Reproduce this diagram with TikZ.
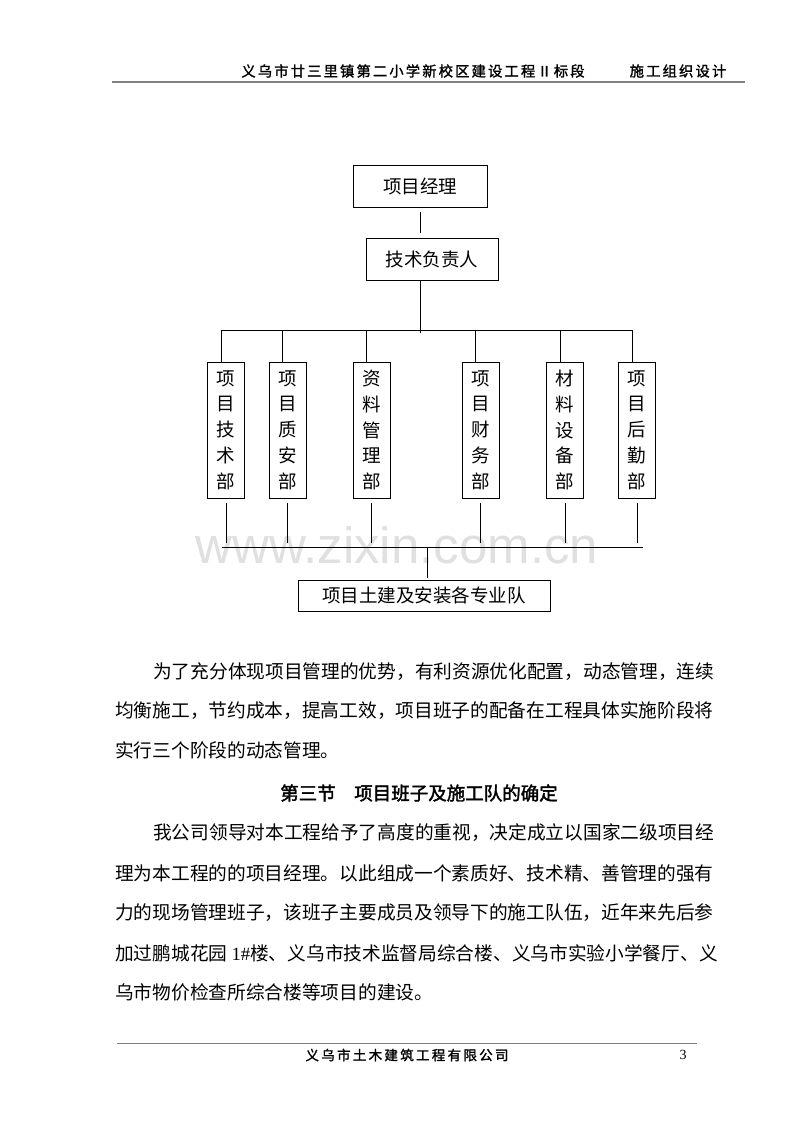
\documentclass[tikz,border=0pt]{standalone}
\usepackage{fontspec}
\setmainfont{Liberation Serif}
\newfontfamily\cjk{Noto Sans CJK SC}
\newfontfamily\cjkbf[FakeBold=2]{Noto Sans CJK SC}
\newfontfamily\cjkhead[FakeBold=1.5,LetterSpace=15]{Noto Sans CJK SC}
\newfontfamily\cjkfoot[FakeBold=1.5,LetterSpace=17]{Noto Sans CJK SC}
\newfontfamily\wmfont{Liberation Sans}
\tikzset{
  orgbox/.style={draw, line width=0.9pt, inner sep=0pt, font=\cjk\fontsize{18.5pt}{25.7pt}\selectfont},
  deptbox/.style={orgbox, align=center, minimum width=37pt, minimum height=136pt},
  link/.style={line width=0.9pt},
  bodyline/.style={anchor=west, inner sep=0pt, font=\cjk\fontsize{18.7pt}{18.7pt}\selectfont}
}
\begin{document}
\begin{tikzpicture}[x=1pt,y=-1pt]
    \useasboundingbox (0,0) rectangle (800,1132);
    \fill[white] (0,0) rectangle (800,1132);

    % watermark behind the chart
    \node[text=black!12, font=\wmfont\fontsize{51pt}{51pt}\selectfont, anchor=base] (mark) at (397,563) {www.zixin.com.cn};

    % page header
    \node[font=\cjkhead\fontsize{14.3pt}{14.3pt}\selectfont] (headl) at (413,71) {义乌市廿三里镇第二小学新校区建设工程Ⅱ标段};
    \node[font=\cjkhead\fontsize{14.3pt}{14.3pt}\selectfont] (headr) at (678,71) {施工组织设计};
    \draw[gray, line width=2pt] (112,82) -- (745,82);

    % org chart
    \node[orgbox, minimum width=134pt, minimum height=42pt] (mgr) at (420,186) {项目经理};
    \node[orgbox, minimum width=132pt, minimum height=42pt] (tech) at (432,259) {技术负责人};
    \node[deptbox] (dtech) at (226,430) {项\\目\\技\\术\\部};
    \node[deptbox] (dqual) at (287.5,430) {项\\目\\质\\安\\部};
    \node[deptbox] (ddata) at (371.5,430) {资\\料\\管\\理\\部};
    \node[deptbox] (dfin) at (480.5,430) {项\\目\\财\\务\\部};
    \node[deptbox] (dmat) at (565,430) {材\\料\\设\\备\\部};
    \node[deptbox] (dlog) at (637,430) {项\\目\\后\\勤\\部};
    \node[orgbox, minimum width=252pt, minimum height=31pt] (team) at (424,595.5) {项目土建及安装各专业队};

    \coordinate (topbus) at (0,330);
    \coordinate (botbus) at (0,547);
    \draw[link, shorten <=5pt, shorten >=5pt] (mgr.south) -- (mgr.south |- tech.north);
    \draw[link] (mgr.south |- tech.south) -- ([yshift=-3pt]mgr.south |- topbus);
    \draw[link] ([xshift=-5pt]dtech.north |- topbus) -- ([xshift=-5pt]dlog.north |- topbus);
    \draw[link] ([xshift=-5pt]dtech.north |- topbus) -- ([xshift=-5pt]dtech.north);
    \draw[link] ([xshift=-5pt]dqual.north |- topbus) -- ([xshift=-5pt]dqual.north);
    \draw[link] ([xshift=-5pt]ddata.north |- topbus) -- ([xshift=-5pt]ddata.north);
    \draw[link] ([xshift=-5pt]dfin.north |- topbus) -- ([xshift=-5pt]dfin.north);
    \draw[link] ([xshift=-5pt]dmat.north |- topbus) -- ([xshift=-5pt]dmat.north);
    \draw[link] ([xshift=-5pt]dlog.north |- topbus) -- ([xshift=-5pt]dlog.north);
    \draw[link, shorten <=5pt, shorten >=4pt] (dtech.south) -- (dtech.south |- botbus);
    \draw[link, shorten <=5pt, shorten >=4pt] (dqual.south) -- (dqual.south |- botbus);
    \draw[link, shorten <=5pt, shorten >=4pt] (ddata.south) -- (ddata.south |- botbus);
    \draw[link, shorten <=5pt, shorten >=4pt] (dfin.south) -- (dfin.south |- botbus);
    \draw[link, shorten <=5pt, shorten >=4pt] (dmat.south) -- (dmat.south |- botbus);
    \draw[link, shorten <=5pt, shorten >=4pt] (dlog.south) -- (dlog.south |- botbus);
    \draw[link] ([xshift=-4pt]dtech.south |- botbus) -- ([xshift=6pt]dlog.south |- botbus);
    \draw[link, shorten >=2pt] ([xshift=3pt]team.north |- botbus) -- ([xshift=3pt]team.north);

    % body text
    \node[bodyline] (p1a) at (153,672) {为了充分体现项目管理的优势，有利资源优化配置，动态管理，连续};
    \node[bodyline] (p1b) at (115,711) {均衡施工，节约成本，提高工效，项目班子的配备在工程具体实施阶段将};
    \node[bodyline] (p1c) at (115,750) {实行三个阶段的动态管理。};
    \node[inner sep=0pt, font=\cjkbf\fontsize{18.5pt}{18.5pt}\selectfont] (title) at (419,793) {第三节　项目班子及施工队的确定};
    \node[bodyline] (p2a) at (153,833) {我公司领导对本工程给予了高度的重视，决定成立以国家二级项目经};
    \node[bodyline] (p2b) at (115,873) {理为本工程的的项目经理。以此组成一个素质好、技术精、善管理的强有};
    \node[bodyline] (p2c) at (115,913) {力的现场管理班子，该班子主要成员及领导下的施工队伍，近年来先后参};
    \node[bodyline] (p2d) at (115,953) {加过鹏城花园 {\rmfamily 1\#}楼、义乌市技术监督局综合楼、义乌市实验小学餐厅、义};
    \node[bodyline] (p2e) at (115,992) {乌市物价检查所综合楼等项目的建设。};

    % page footer
    \draw[gray, line width=0.8pt] (117,1043) -- (697,1043);
    \node[font=\cjkfoot\fontsize{13.5pt}{13.5pt}\selectfont] (foot) at (407,1055) {义乌市土木建筑工程有限公司};
    \node[font=\fontsize{14pt}{14pt}\selectfont] (pageno) at (683,1055) {3};
\end{tikzpicture}
\end{document}
